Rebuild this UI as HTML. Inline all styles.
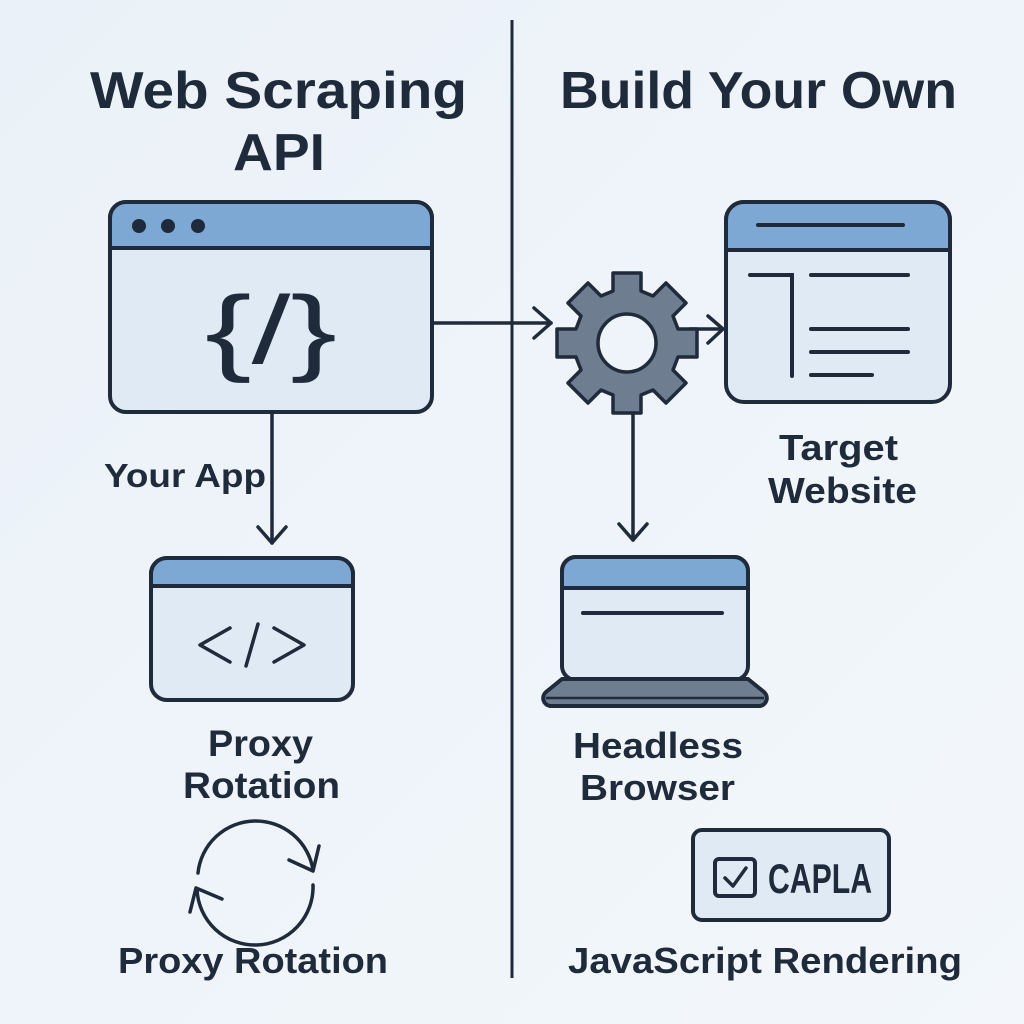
<!DOCTYPE html>
<html><head><meta charset="utf-8"><style>
html,body{margin:0;padding:0;background:#eef4fa;}
svg{display:block}
text{font-family:"Liberation Sans",sans-serif;fill:#1f2a3a;font-weight:bold}
</style></head><body>
<svg width="1024" height="1024" viewBox="0 0 1024 1024" xmlns="http://www.w3.org/2000/svg">
<defs>
<linearGradient id="bg" x1="0" y1="0" x2="1" y2="1"><stop offset="0" stop-color="#eaf1f8"/><stop offset="1" stop-color="#f3f7fb"/></linearGradient>
</defs>
<rect width="1024" height="1024" fill="url(#bg)"/>
<line x1="512" y1="20" x2="512" y2="978" stroke="#1f2a3a" stroke-width="3"/>
<text x="90" y="108" font-size="52" textLength="377" lengthAdjust="spacingAndGlyphs">Web Scraping</text>
<text x="233" y="170" font-size="52" textLength="92" lengthAdjust="spacingAndGlyphs">API</text>
<text x="560" y="108" font-size="52" textLength="397" lengthAdjust="spacingAndGlyphs">Build Your Own</text>

<!-- App window -->
<g stroke="#1f2a3a" stroke-width="4" stroke-linejoin="round">
<rect x="110" y="202" width="322" height="210" rx="16" fill="#dfeaf5"/>
<path d="M110 248 V218 a16 16 0 0 1 16 -16 H416 a16 16 0 0 1 16 16 V248 Z" fill="#7ea8d4"/>
</g>
<circle cx="139" cy="226" r="7" fill="#1f2a3a"/><circle cx="168" cy="226" r="7" fill="#1f2a3a"/><circle cx="198" cy="226" r="7" fill="#1f2a3a"/>
<text x="205" y="363" font-size="96" textLength="132" lengthAdjust="spacingAndGlyphs" style="font-weight:normal">{/}</text>

<!-- arrows -->
<g stroke="#1f2a3a" stroke-width="3.5" fill="none" stroke-linecap="round" stroke-linejoin="round">
<line x1="432" y1="323" x2="551" y2="323"/><polyline points="534,308 551,323 534,338"/>
<line x1="272" y1="412" x2="272" y2="543"/><polyline points="258,527 272,543 286,527"/>
<line x1="690" y1="329" x2="723" y2="329"/><polyline points="708,316 723,329 708,343"/>
<line x1="633" y1="413" x2="633" y2="540"/><polyline points="619,524 633,540 647,524"/>
</g>
<text x="104" y="487" font-size="33" textLength="162" lengthAdjust="spacingAndGlyphs">Your App</text>

<!-- Proxy window -->
<g stroke="#1f2a3a" stroke-width="4" stroke-linejoin="round">
<rect x="151" y="558" width="202" height="142" rx="16" fill="#dfeaf5"/>
<path d="M151 586 V574 a16 16 0 0 1 16 -16 H337 a16 16 0 0 1 16 16 V586 Z" fill="#7ea8d4"/>
</g>
<g stroke="#1f2a3a" stroke-width="3.5" fill="none" stroke-linecap="round" stroke-linejoin="round">
<polyline points="230,628 200,645 230,662"/><line x1="258" y1="624" x2="246" y2="666"/><polyline points="274,628 304,645 274,662"/>
</g>
<text x="208" y="756" font-size="37" textLength="105" lengthAdjust="spacingAndGlyphs">Proxy</text>
<text x="183" y="798" font-size="37" textLength="157" lengthAdjust="spacingAndGlyphs">Rotation</text>

<!-- rotation circle arrows -->
<g stroke="#1f2a3a" stroke-width="3.5" fill="none" stroke-linecap="round" stroke-linejoin="round">
<path d="M198 873 A58 58 0 0 1 313 870"/><polyline points="289,860 313,871 319,846"/>
<path d="M313 885 A58 58 0 0 1 197 889"/><polyline points="222,899 196,888 190,912"/>
</g>
<text x="118" y="973" font-size="36" textLength="270" lengthAdjust="spacingAndGlyphs">Proxy Rotation</text>

<!-- Gear -->
<g transform="translate(627,343)">
<path fill="#6e7d90" stroke="#1f2a3a" stroke-width="3.5" stroke-linejoin="round" d="M-14,-70 H14 V-52 L26,-47 L39,-60 L59,-40 L46,-27 L51,-14 H70 V14 H51 L46,27 L59,40 L39,60 L26,47 L14,52 V70 H-14 V52 L-26,47 L-39,60 L-59,40 L-46,27 L-51,14 H-70 V-14 H-51 L-46,-27 L-59,-40 L-39,-60 L-26,-47 L-14,-52 Z"/>
<circle r="29" fill="#eef4fa" stroke="#1f2a3a" stroke-width="3.5"/>
</g>

<!-- Target website -->
<g stroke="#1f2a3a" stroke-width="4" stroke-linejoin="round">
<rect x="726" y="202" width="224" height="200" rx="18" fill="#dfeaf5"/>
<path d="M726 250 V220 a18 18 0 0 1 18 -18 H932 a18 18 0 0 1 18 18 V250 Z" fill="#7ea8d4"/>
</g>
<g stroke="#1f2a3a" stroke-width="4" fill="none" stroke-linecap="round">
<line x1="758" y1="225" x2="903" y2="225"/>
<polyline points="750,275 792,275 792,376"/>
<line x1="811" y1="275" x2="908" y2="275"/>
<line x1="811" y1="329" x2="908" y2="329"/>
<line x1="811" y1="352" x2="908" y2="352"/>
<line x1="811" y1="375" x2="872" y2="375"/>
</g>
<text x="779" y="460" font-size="36" textLength="119" lengthAdjust="spacingAndGlyphs">Target</text>
<text x="768" y="503" font-size="36" textLength="149" lengthAdjust="spacingAndGlyphs">Website</text>

<!-- Laptop -->
<g stroke="#1f2a3a" stroke-width="4" stroke-linejoin="round">
<rect x="562" y="557" width="186" height="123" rx="14" fill="#dfeaf5"/>
<path d="M562 588 V571 a14 14 0 0 1 14 -14 H734 a14 14 0 0 1 14 14 V588 Z" fill="#7ea8d4"/>
<path d="M562 679 H748 L764 692 a8 8 0 0 1 -4 14 H550 a8 8 0 0 1 -4 -14 Z" fill="#6e7d90"/>
</g>
<line x1="546" y1="698" x2="764" y2="698" stroke="#1f2a3a" stroke-width="2.5"/>
<line x1="583" y1="613" x2="722" y2="613" stroke="#1f2a3a" stroke-width="4" stroke-linecap="round"/>
<text x="573" y="758" font-size="36" textLength="170" lengthAdjust="spacingAndGlyphs">Headless</text>
<text x="580" y="800" font-size="36" textLength="155" lengthAdjust="spacingAndGlyphs">Browser</text>

<!-- Captcha -->
<rect x="693" y="830" width="196" height="90" rx="9" fill="#dfeaf5" stroke="#1f2a3a" stroke-width="4"/>
<rect x="715" y="859" width="40" height="37" rx="4" fill="none" stroke="#1f2a3a" stroke-width="4"/>
<polyline points="725,878 733,886 746,868" fill="none" stroke="#1f2a3a" stroke-width="3.5" stroke-linecap="round" stroke-linejoin="round"/>
<text x="768" y="893" font-size="42" textLength="104" lengthAdjust="spacingAndGlyphs">CAPLA</text>
<text x="568" y="973" font-size="36" textLength="394" lengthAdjust="spacingAndGlyphs">JavaScript Rendering</text>
</svg>
</body></html>
